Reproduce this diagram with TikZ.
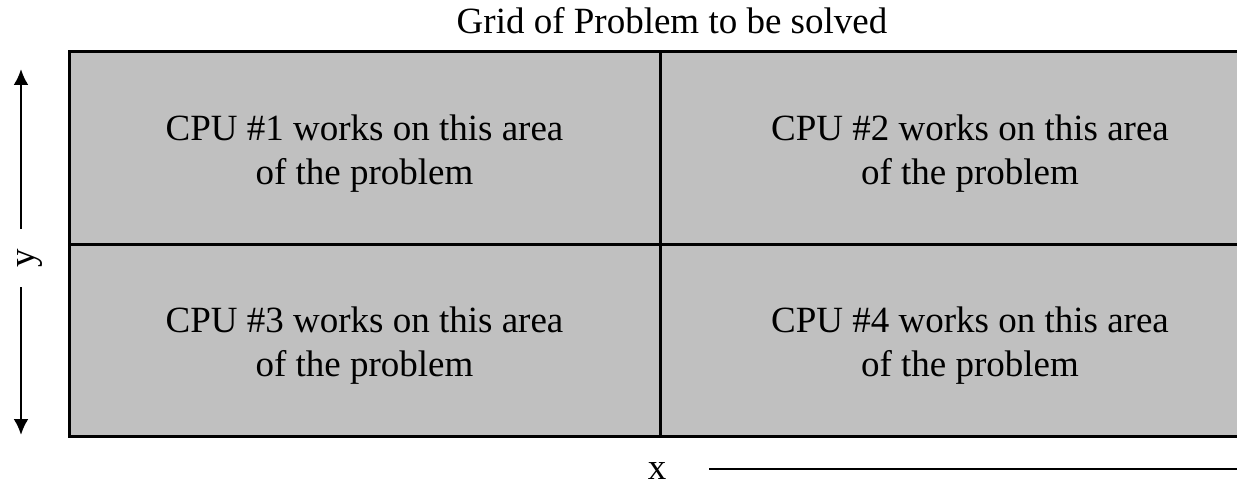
\documentclass[tikz,border=0pt]{standalone}
\usepackage{fontspec}
\setmainfont{Liberation Serif}
\usetikzlibrary{positioning}
\usetikzlibrary{arrows.meta}
\definecolor{cellgray}{RGB}{192,192,192}

\begin{document}
\begin{tikzpicture}[x=1pt,y=-1pt,
  cell/.style={draw,fill=cellgray,line width=3pt,outer sep=0pt,inner sep=0pt,minimum height=192pt},
  celltext/.style={align=center,font=\fontsize{37}{44}\selectfont},
  axis/.style={line width=2.5pt},
  tip/.style={-{Latex[length=16pt,width=15pt]}}]
 \useasboundingbox (0,0) rectangle (1237,484);

 \node[cell,minimum width=591pt,anchor=north west] (c1) at (69,52) {};
 \node[cell,minimum width=620pt,right=0pt of c1]   (c2) {};
 \node[cell,minimum width=591pt,below=0pt of c1]   (c3) {};
 \node[cell,minimum width=620pt,right=0pt of c3]   (c4) {};

 \node[celltext,yshift=-6pt] (t1) at (c1) {CPU \#1 works on this area\\of the problem};
 \node[celltext,yshift=-6pt] (t2) at (c2) {CPU \#2 works on this area\\of the problem};
 \node[celltext,yshift=-6pt] (t3) at (c3) {CPU \#3 works on this area\\of the problem};
 \node[celltext,yshift=-6pt] (t4) at (c4) {CPU \#4 works on this area\\of the problem};

 \node[celltext,anchor=base] (title) at (672,34) {Grid of Problem to be solved};

 \coordinate (ytop) at (21,69);
 \coordinate (ybot) at (21,435);
 \node[celltext,rotate=90,inner xsep=20pt] (ylab) at (30,258) {y};
 \draw[axis,tip] (ylab.east -| ytop) -- (ytop);
 \draw[axis,tip] (ylab.west -| ybot) -- (ybot);

 \coordinate (xend) at (1300,469);
 \node[celltext,inner xsep=43pt,inner ysep=0pt] (xlab) at (657,471) {x};
 \draw[axis,tip] (xlab.east |- xend) -- (xend);
\end{tikzpicture}
\end{document}
